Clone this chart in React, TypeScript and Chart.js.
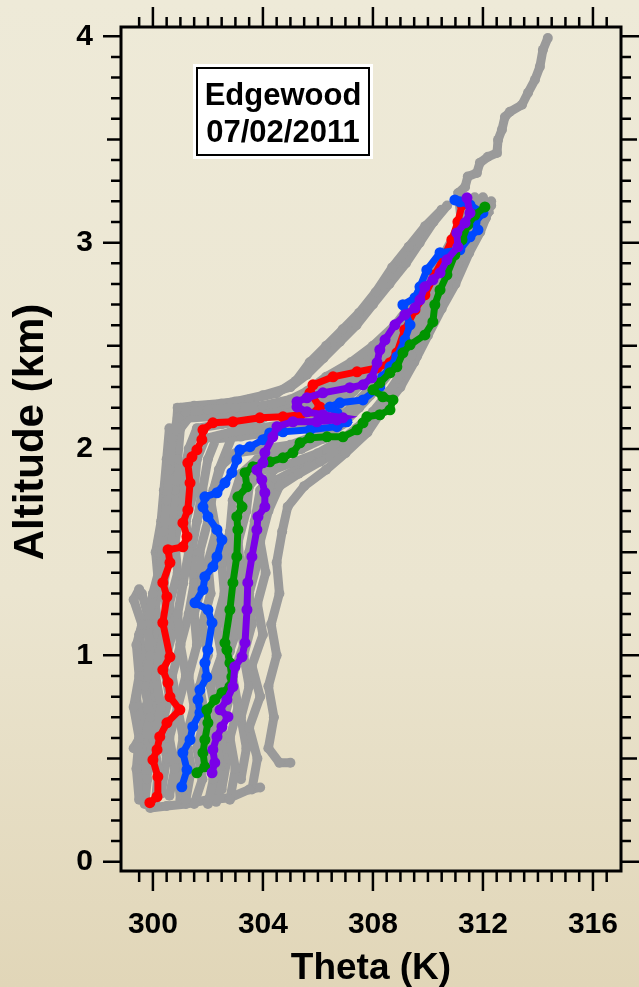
import React, { useEffect, useRef } from "react";
import { Chart, registerables } from "chart.js";

Chart.register(...registerables);

type P = [number, number][];

const xTickValues = [300, 304, 308, 312, 316];
const yTickValues = [0, 1, 2, 3, 4];
const titleLines = ["Edgewood", "07/02/2011"];

const red: P = [
  [299.89, 0.286], [300.15, 0.315], [300.18, 0.412], [300.0, 0.494], [300.15, 0.543], [300.25, 0.606],
  [300.51, 0.673], [300.98, 0.736], [300.62, 0.799], [300.55, 0.867], [300.36, 0.93], [300.62, 0.993],
  [300.36, 1.158], [300.51, 1.284], [300.36, 1.352], [300.62, 1.449], [300.55, 1.512], [301.09, 1.526],
  [301.24, 1.575], [301.09, 1.642], [301.27, 1.705], [301.35, 1.836], [301.27, 1.933], [301.42, 1.962],
  [301.6, 1.996], [301.78, 2.045], [301.82, 2.093], [302.18, 2.127], [302.91, 2.132], [303.89, 2.151],
  [304.73, 2.156], [305.35, 2.166], [305.96, 2.18], [306.07, 2.204], [305.71, 2.272], [305.82, 2.311],
  [306.55, 2.35], [307.42, 2.374], [308.15, 2.393], [308.62, 2.418], [308.87, 2.466], [309.16, 2.578],
  [309.53, 2.674], [309.89, 2.747], [310.25, 2.844], [310.62, 2.941], [310.87, 3.014], [311.09, 3.101],
  [311.24, 3.183],
];

const blue: P = [
  [301.05, 0.363], [301.24, 0.446], [301.09, 0.528], [301.35, 0.591], [301.45, 0.654], [301.71, 0.722],
  [301.64, 0.785], [301.71, 0.833], [301.96, 0.896], [301.89, 0.964], [302.0, 1.027], [302.15, 1.158],
  [302.0, 1.221], [301.53, 1.255], [301.82, 1.318], [301.89, 1.381], [302.18, 1.429], [302.33, 1.478],
  [302.51, 1.56], [302.33, 1.609], [302.0, 1.672], [301.82, 1.72], [301.89, 1.768], [302.33, 1.788],
  [302.62, 1.836], [302.87, 1.885], [303.05, 1.948], [303.16, 1.996], [303.53, 2.011], [304.0, 2.045],
  [304.25, 2.078], [304.73, 2.083], [305.71, 2.093], [306.69, 2.108], [307.05, 2.132], [306.69, 2.175],
  [306.44, 2.204], [306.8, 2.224], [307.64, 2.238], [308.25, 2.301], [308.36, 2.35], [308.62, 2.398],
  [308.87, 2.447], [309.16, 2.529], [309.35, 2.602], [309.09, 2.699], [309.53, 2.733], [309.71, 2.786],
  [309.96, 2.868], [310.44, 2.951], [311.16, 2.965], [311.53, 3.028], [311.82, 3.062], [311.71, 3.096],
  [312.0, 3.144], [311.53, 3.183], [311.16, 3.198], [310.98, 3.207],
];

const green: P = [
  [301.6, 0.431], [301.89, 0.46], [301.82, 0.528], [301.89, 0.591], [302.0, 0.673], [301.96, 0.736],
  [302.25, 0.785], [302.51, 0.819], [302.8, 0.848], [302.87, 0.896], [302.8, 0.964], [302.69, 1.027],
  [302.62, 1.061], [302.8, 1.221], [302.91, 1.352], [303.05, 1.478], [303.09, 1.609], [303.05, 1.672],
  [303.24, 1.72], [303.09, 1.768], [303.42, 1.817], [303.35, 1.885], [303.64, 1.914], [304.25, 1.938],
  [304.73, 1.957], [305.09, 1.982], [305.35, 2.03], [305.71, 2.054], [306.33, 2.059], [306.91, 2.059],
  [307.42, 2.093], [307.64, 2.127], [307.78, 2.156], [308.25, 2.166], [308.62, 2.19], [308.73, 2.238],
  [308.36, 2.253], [308.0, 2.287], [308.25, 2.321], [308.62, 2.369], [308.87, 2.398], [309.09, 2.466],
  [309.35, 2.505], [309.89, 2.553], [310.18, 2.616], [310.25, 2.699], [310.44, 2.771], [310.69, 2.844],
  [310.98, 2.941], [311.24, 3.014], [311.45, 3.086], [311.71, 3.134], [312.07, 3.173],
];

const purple: P = [
  [302.15, 0.431], [302.25, 0.48], [302.18, 0.543], [302.33, 0.606], [302.51, 0.654], [302.73, 0.703],
  [302.44, 0.736], [302.69, 0.785], [302.91, 0.848], [302.98, 0.945], [303.24, 0.993], [303.35, 1.061],
  [303.42, 1.221], [303.45, 1.352], [303.6, 1.478], [303.78, 1.609], [303.82, 1.672], [304.07, 1.72],
  [304.07, 1.788], [303.96, 1.851], [303.78, 1.899], [304.0, 1.933], [304.07, 1.982], [304.36, 2.059],
  [304.51, 2.108], [305.09, 2.132], [305.96, 2.132], [306.69, 2.141], [306.91, 2.151], [306.18, 2.166],
  [305.6, 2.18], [305.24, 2.204], [305.24, 2.229], [305.6, 2.248], [306.18, 2.272], [307.16, 2.297],
  [307.64, 2.311], [307.96, 2.345], [308.15, 2.418], [308.25, 2.481], [308.44, 2.529], [308.8, 2.602],
  [309.16, 2.65], [309.53, 2.684], [309.71, 2.723], [309.89, 2.786], [310.18, 2.82], [310.44, 2.854],
  [310.69, 2.917], [311.09, 2.98], [311.05, 3.047], [311.35, 3.096], [311.53, 3.144], [311.42, 3.217],
];

const gray1: P = [
  [299.5, 0.3], [299.4, 0.45], [299.5, 0.6], [299.3, 0.75], [299.5, 0.9], [299.4, 1.05], [299.6, 1.15],
  [299.3, 1.27], [299.5, 1.32],
];
const gray2: P = [
  [299.7, 0.28], [299.8, 0.4], [299.6, 0.55], [299.9, 0.7], [299.7, 0.85], [299.9, 1.0], [299.8, 1.15],
  [300.0, 1.3], [300.3, 1.45], [300.4, 1.6], [300.5, 1.75], [300.6, 1.9], [300.7, 2.05], [300.9, 2.15],
  [301.2, 2.18], [302.0, 2.19], [303.0, 2.2], [304.0, 2.21], [305.0, 2.24], [305.6, 2.28], [306.3, 2.35],
  [307.2, 2.42], [308.0, 2.5], [308.8, 2.6], [309.5, 2.72], [310.2, 2.85], [310.8, 2.98], [311.3, 3.1],
  [311.8, 3.2],
];
const gray3: P = [
  [300.1, 0.3], [300.2, 0.45], [300.0, 0.6], [300.3, 0.75], [300.1, 0.9], [300.3, 1.05], [300.5, 1.2],
  [300.4, 1.35], [300.6, 1.5], [300.7, 1.65], [300.8, 1.8], [300.9, 1.95], [301.0, 2.1], [301.3, 2.15],
  [302.5, 2.16], [303.5, 2.18], [304.5, 2.2], [305.5, 2.25], [306.2, 2.3], [307.0, 2.38], [307.8, 2.45],
  [308.5, 2.55], [309.2, 2.65], [309.8, 2.78], [310.4, 2.9], [310.9, 3.02], [311.3, 3.12], [311.6, 3.18],
];
const gray4: P = [
  [300.6, 0.32], [300.8, 0.45], [300.6, 0.6], [300.9, 0.75], [300.7, 0.9], [301.0, 1.05], [300.9, 1.2],
  [301.1, 1.35], [301.3, 1.5], [301.2, 1.65], [301.5, 1.8], [301.6, 1.95], [301.9, 2.05], [302.8, 2.08],
  [303.8, 2.1], [304.8, 2.12], [305.5, 2.15], [306.2, 2.2], [306.8, 2.27], [307.5, 2.35], [308.2, 2.42],
  [308.9, 2.52], [309.5, 2.62], [310.0, 2.75], [310.6, 2.88], [311.0, 3.0], [311.5, 3.1], [312.0, 3.2],
];
const gray5: P = [
  [301.2, 0.3], [301.4, 0.45], [301.2, 0.6], [301.5, 0.75], [301.3, 0.9], [301.6, 1.05], [301.5, 1.2],
  [301.8, 1.35], [301.7, 1.5], [302.0, 1.65], [302.2, 1.8], [302.5, 1.92], [303.0, 1.98], [304.0, 2.0],
  [305.0, 2.02], [305.8, 2.06], [306.5, 2.12], [307.2, 2.2], [307.8, 2.28], [308.4, 2.38], [309.0, 2.48],
  [309.6, 2.6], [310.2, 2.72], [310.7, 2.85], [311.2, 2.98], [311.6, 3.1], [312.2, 3.15], [312.0, 3.22],
];
const gray6: P = [
  [302.0, 0.28], [302.2, 0.4], [301.9, 0.55], [302.3, 0.7], [302.1, 0.85], [302.5, 1.0], [302.3, 1.15],
  [302.6, 1.3], [302.5, 1.45], [302.8, 1.6], [302.9, 1.75], [303.2, 1.88], [303.8, 1.95], [304.6, 1.97],
  [305.4, 2.0], [306.2, 2.05], [306.9, 2.12], [307.5, 2.2], [308.2, 2.3], [308.8, 2.4], [309.4, 2.52],
  [310.0, 2.65], [310.5, 2.78], [311.0, 2.92], [311.4, 3.05], [311.9, 3.15],
];
const gray7: P = [
  [302.8, 0.3], [303.0, 0.45], [302.8, 0.6], [303.1, 0.75], [302.9, 0.9], [303.3, 1.05], [303.1, 1.2],
  [303.4, 1.35], [303.5, 1.5], [303.7, 1.65], [303.9, 1.8], [304.4, 1.9], [305.2, 1.94], [306.0, 1.98],
  [306.8, 2.04], [307.6, 2.12], [308.3, 2.22], [308.9, 2.34], [309.4, 2.45], [309.9, 2.58], [310.4, 2.7],
  [310.9, 2.85], [311.3, 2.98], [311.8, 3.08], [312.3, 3.18],
];
const gray8: P = [
  [305.0, 0.48], [304.6, 0.48], [304.2, 0.55], [304.4, 0.7], [304.2, 0.85], [304.5, 1.0], [304.3, 1.15],
  [304.6, 1.3], [304.5, 1.45], [304.7, 1.6], [304.9, 1.72], [305.5, 1.82], [306.3, 1.9], [307.0, 1.98],
  [307.8, 2.08], [308.4, 2.2], [309.0, 2.32], [309.6, 2.45], [310.1, 2.6], [310.6, 2.75], [311.1, 2.9],
  [311.6, 3.02], [312.1, 3.12], [311.7, 3.22],
];
const gray9: P = [
  [301.5, 0.28], [301.8, 0.4], [301.6, 0.55], [301.9, 0.7], [301.7, 0.85], [302.0, 1.0], [301.8, 1.15],
  [302.1, 1.3], [302.0, 1.45], [302.3, 1.6], [302.1, 1.75], [302.4, 1.9], [303.0, 2.1], [304.0, 2.15],
  [305.0, 2.2], [306.0, 2.26], [307.0, 2.34], [308.0, 2.44], [309.0, 2.56], [309.8, 2.7], [310.4, 2.85],
  [310.9, 3.0], [311.2, 3.12], [311.1, 3.24], [311.35, 3.27], [311.45, 3.32], [311.78, 3.338],
  [311.89, 3.387], [312.18, 3.416], [312.51, 3.435], [312.55, 3.498], [312.69, 3.547], [312.8, 3.609],
  [312.98, 3.634], [313.42, 3.668], [313.64, 3.726], [313.89, 3.789], [314.07, 3.852], [314.18, 3.934],
  [314.36, 3.992],
];
const gray10: P = [
  [299.9, 0.26], [300.5, 0.27], [301.2, 0.28], [302.0, 0.3], [302.8, 0.31], [303.5, 0.35], [303.9, 0.36],
];
const gray11: P = [
  [303.6, 0.35], [303.8, 0.5], [303.5, 0.65], [303.9, 0.8], [303.6, 0.95], [304.0, 1.1], [303.8, 1.25],
  [304.1, 1.4], [303.9, 1.55], [304.2, 1.7], [304.6, 1.82], [305.3, 1.88], [306.1, 1.94], [306.9, 2.0],
  [307.7, 2.1], [308.4, 2.2], [309.0, 2.3], [309.5, 2.42], [310.0, 2.55], [310.5, 2.68], [311.0, 2.8],
  [311.5, 2.95], [311.9, 3.05], [312.2, 3.15],
];
const gray12: P = [
  [300.3, 0.33], [300.5, 0.5], [300.3, 0.65], [300.6, 0.8], [300.4, 0.95], [300.7, 1.1], [300.6, 1.25],
  [300.9, 1.4], [300.8, 1.55], [301.0, 1.7], [301.1, 1.85], [301.3, 2.0], [301.6, 2.1], [302.5, 2.12],
  [303.5, 2.14], [304.6, 2.17], [305.6, 2.2], [306.5, 2.26], [307.3, 2.33], [308.0, 2.4], [308.7, 2.48],
  [309.3, 2.58], [309.9, 2.7], [310.5, 2.82], [311.0, 2.95], [311.5, 3.07], [311.9, 3.17],
];
const gray13: P = [
  [302.3, 0.29], [302.5, 0.42], [302.3, 0.58], [302.6, 0.72], [302.4, 0.88], [302.8, 1.02], [302.6, 1.17],
  [302.9, 1.32], [302.8, 1.47], [303.1, 1.62], [303.3, 1.78], [303.6, 1.9], [304.2, 1.96], [305.0, 2.0],
  [305.8, 2.04], [306.6, 2.1], [307.3, 2.18], [307.9, 2.26], [308.5, 2.36], [309.1, 2.46], [309.7, 2.58],
  [310.3, 2.7], [310.8, 2.84], [311.3, 2.97], [311.7, 3.08], [312.3, 3.2],
];
const gray14: P = [
  [299.6, 0.35], [300.0, 0.5], [299.8, 0.65], [300.1, 0.8], [299.9, 0.95], [300.2, 1.1], [300.1, 1.25],
  [300.4, 1.4], [300.2, 1.55], [300.5, 1.7], [300.6, 1.85], [300.8, 2.0], [300.9, 2.2], [301.5, 2.21],
  [302.5, 2.22], [303.5, 2.24], [304.5, 2.27], [305.2, 2.33], [305.7, 2.42], [306.3, 2.5], [306.9, 2.58],
  [307.5, 2.66], [308.1, 2.76], [308.7, 2.88], [309.3, 2.98], [309.9, 3.08], [310.5, 3.16],
];
const gray15: P = [
  [303.2, 0.4], [303.4, 0.55], [303.2, 0.7], [303.5, 0.85], [303.3, 1.0], [303.6, 1.15], [303.5, 1.3],
  [303.8, 1.45], [303.7, 1.6], [304.0, 1.75], [304.5, 1.85], [305.2, 1.9], [306.0, 1.96], [306.7, 2.02],
  [307.4, 2.1], [308.0, 2.18], [308.6, 2.28], [309.2, 2.38], [309.7, 2.5], [310.2, 2.64], [310.8, 2.78],
  [311.3, 2.92], [311.8, 3.04], [312.1, 3.12],
];
const gray16: P = [
  [301.0, 2.2], [302.0, 2.21], [303.0, 2.23], [304.0, 2.26], [305.0, 2.3], [305.6, 2.36], [306.2, 2.44],
  [306.8, 2.52], [307.4, 2.6], [308.0, 2.7], [308.6, 2.8], [309.2, 2.9], [309.7, 3.0], [310.2, 3.1],
  [310.7, 3.18],
];
const gray17: P = [
  [299.3, 0.55], [299.6, 0.62], [299.4, 0.8], [299.7, 0.95], [299.5, 1.1], [299.8, 1.2], [299.6, 1.3],
];
const gray18: P = [
  [301.0, 0.3], [300.9, 0.45], [301.1, 0.6], [300.9, 0.75], [301.2, 0.9], [301.0, 1.05], [301.3, 1.2],
  [301.5, 1.35], [301.4, 1.5], [301.6, 1.65], [301.8, 1.8], [302.0, 1.95], [302.3, 2.05], [303.2, 2.06],
  [304.2, 2.08], [305.2, 2.1], [306.0, 2.14], [306.7, 2.2], [307.3, 2.28], [307.9, 2.36], [308.5, 2.45],
  [309.0, 2.55], [309.5, 2.66], [310.0, 2.78], [310.5, 2.9], [311.0, 3.03], [311.4, 3.14],
];
const gray19: P = [
  [299.5, 0.4], [299.9, 0.55], [299.6, 0.7], [300.0, 0.85], [299.7, 1.0], [300.0, 1.12], [299.8, 1.22],
  [300.2, 1.35], [300.1, 1.5], [300.3, 1.65], [300.4, 1.8], [300.5, 1.95], [300.6, 2.1],
];
const gray20: P = [
  [302.5, 0.35], [302.7, 0.5], [302.5, 0.65], [302.8, 0.8], [302.6, 0.95], [303.0, 1.1], [302.9, 1.25],
  [303.2, 1.4], [303.1, 1.55], [303.4, 1.7], [303.5, 1.82], [304.0, 1.9], [304.8, 1.93],
];

const grayProfiles = [
  gray1, gray2, gray3, gray4, gray5, gray6, gray7, gray8, gray9, gray10, gray11, gray12, gray13, gray14,
  gray15, gray16, gray17, gray18, gray19, gray20,
];
const colorProfiles: { data: P; color: string }[] = [
  { data: purple, color: "#7A00E8" },
  { data: green, color: "#009400" },
  { data: blue, color: "#0048FF" },
  { data: red, color: "#FF0000" },
];

const FONT = "'Liberation Sans', Arial, Helvetica, sans-serif";

const framePlugin = {
  id: "frameTicks",
  afterDatasetsDraw(chart: any) {
    const { ctx, chartArea: a, scales } = chart;
    const xs = scales.x;
    const ys = scales.y;
    ctx.save();
    ctx.strokeStyle = "#000";
    ctx.lineWidth = 2.5;
    ctx.lineCap = "butt";
    for (let i = 0; i <= 40; i++) {
      const v = i / 10;
      const py = ys.getPixelForValue(v);
      const len = i % 10 === 0 ? 18 : i % 5 === 0 ? 14 : 10;
      const lenR = i % 10 === 0 ? 19 : i % 5 === 0 ? 16 : 10;
      ctx.beginPath();
      ctx.moveTo(a.left, py);
      ctx.lineTo(a.left - len, py);
      ctx.moveTo(a.right, py);
      ctx.lineTo(a.right + lenR, py);
      ctx.stroke();
    }
    for (let i = 0; i <= 34; i++) {
      const v = 299.5 + i * 0.5;
      const px = xs.getPixelForValue(v);
      const major = Math.abs((v - 300) % 4) < 1e-6;
      ctx.beginPath();
      ctx.moveTo(px, a.bottom);
      ctx.lineTo(px, a.bottom + (major ? 20 : 11));
      ctx.moveTo(px, a.top);
      ctx.lineTo(px, a.top - (major ? 20 : 10));
      ctx.stroke();
    }
    ctx.lineWidth = 3;
    ctx.strokeRect(a.left, a.top, a.right - a.left, a.bottom - a.top);

    const bx = a.left + 72;
    const by = a.top + 37;
    const bw = 180;
    const bh = 95;
    ctx.fillStyle = "#FFFFFF";
    ctx.fillRect(bx, by, bw, bh);
    ctx.lineWidth = 2;
    ctx.strokeRect(bx + 4, by + 4, bw - 8, bh - 8);
    ctx.fillStyle = "#000";
    ctx.font = `bold 31px ${FONT}`;
    ctx.textAlign = "center";
    ctx.textBaseline = "alphabetic";
    ctx.fillText(titleLines[0], bx + bw / 2, by + 41);
    ctx.fillText(titleLines[1], bx + bw / 2, by + 78);

    ctx.save();
    ctx.translate(43, a.top + 405);
    ctx.rotate(-Math.PI / 2);
    ctx.font = `bold 42px ${FONT}`;
    ctx.textAlign = "center";
    ctx.textBaseline = "alphabetic";
    ctx.fillText("Altitude (km)", 0, 0);
    ctx.restore();
    ctx.restore();
  },
};

export default function App() {
  const ref = useRef<HTMLCanvasElement>(null);

  useEffect(() => {
    if (!ref.current) return;
    const datasets: any[] = [];
    colorProfiles.forEach((p) => {
      datasets.push({
        data: p.data.map(([x, y]) => ({ x, y })),
        borderColor: p.color,
        backgroundColor: p.color,
        pointBackgroundColor: p.color,
        pointBorderWidth: 0,
        pointRadius: 5.5,
        borderWidth: 7,
        showLine: true,
        tension: 0,
      });
    });
    grayProfiles.forEach((g) => {
      datasets.push({
        data: g.map(([x, y]) => ({ x, y })),
        borderColor: "#9A9A9A",
        backgroundColor: "#9A9A9A",
        pointBackgroundColor: "#9A9A9A",
        pointBorderWidth: 0,
        pointRadius: 5,
        borderWidth: 9,
        showLine: true,
        tension: 0,
      });
    });

    const chart = new Chart(ref.current, {
      type: "scatter",
      data: { datasets },
      options: {
        animation: false,
        responsive: false,
        maintainAspectRatio: false,
        layout: { padding: { top: 27, right: 18, left: 0, bottom: 0 } },
        plugins: { legend: { display: false }, tooltip: { enabled: false } },
        scales: {
          x: {
            type: "linear",
            min: 298.84,
            max: 317.02,
            afterFit: (s: any) => {
              s.height = 116;
            },
            afterBuildTicks: (s: any) => {
              s.ticks = xTickValues.map((value) => ({ value }));
            },
            grid: { display: false, drawTicks: true, tickLength: 36 },
            border: { display: false },
            ticks: {
              color: "#000",
              padding: 0,
              maxRotation: 0,
              font: { family: FONT, size: 30, weight: "bold" },
            },
            title: {
              display: true,
              text: "Theta (K)",
              color: "#000",
              padding: { top: 0, bottom: 0 },
              font: { family: FONT, size: 37, weight: "bold", lineHeight: 1 },
            },
          },
          y: {
            type: "linear",
            min: -0.045,
            max: 4.045,
            afterFit: (s: any) => {
              s.width = 121;
            },
            afterBuildTicks: (s: any) => {
              s.ticks = yTickValues.map((value) => ({ value }));
            },
            grid: { display: false, drawTicks: true, tickLength: 28 },
            border: { display: false },
            ticks: {
              color: "#000",
              padding: 0,
              font: { family: FONT, size: 30, weight: "bold" },
            },
          },
        },
      },
      plugins: [framePlugin],
    });
    return () => chart.destroy();
  }, []);

  return (
    <div
      style={{
        position: "fixed",
        left: 0,
        top: 0,
        width: 639,
        height: 987,
        background: "linear-gradient(to bottom, #EEEAD8 0%, #EBE5D0 60%, #E1D6B8 100%)",
      }}
    >
      <canvas ref={ref} width={639} height={987} style={{ display: "block" }} />
    </div>
  );
}
